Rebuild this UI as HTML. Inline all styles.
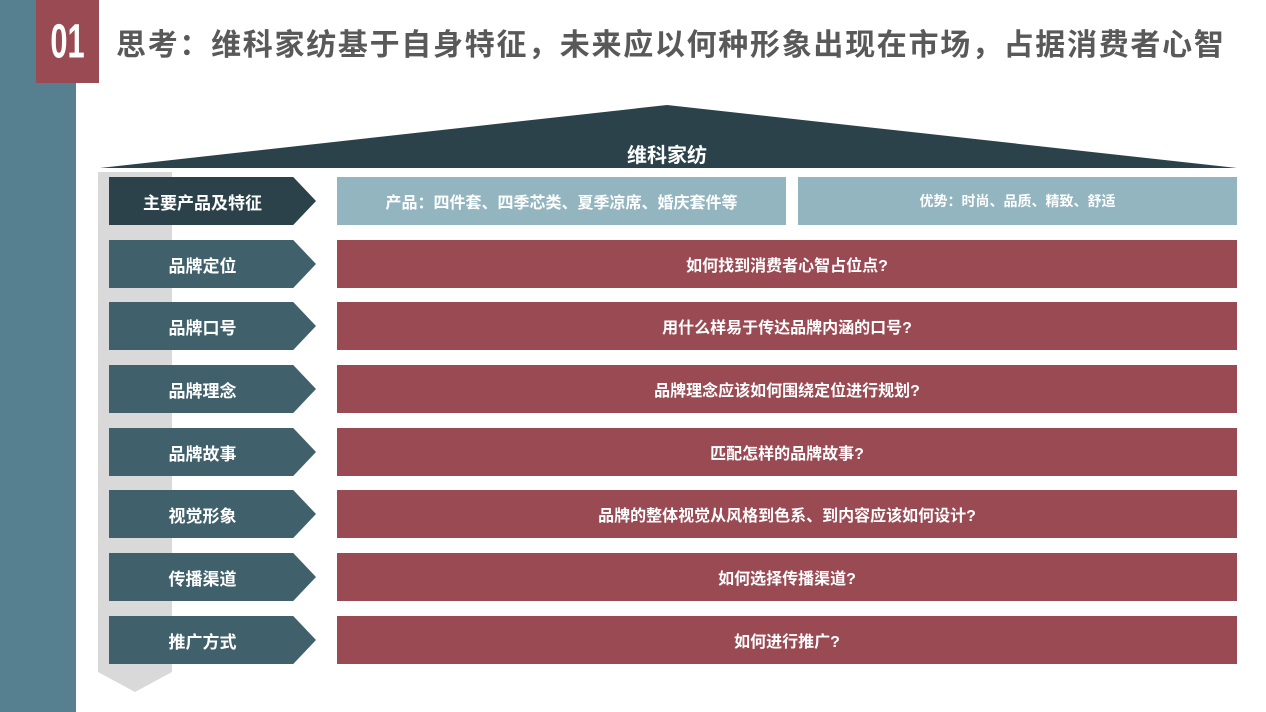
<!DOCTYPE html>
<html><head><meta charset="utf-8"><style>
body{margin:0;width:1266px;height:712px;background:#fff;position:relative;overflow:hidden;font-family:"Liberation Sans","Noto Sans CJK SC",sans-serif;}
.a{position:absolute;}
.t{display:flex;align-items:center;justify-content:center;color:#fff;font-weight:bold;}
.chev{position:absolute;left:109px;width:207px;height:48px;clip-path:polygon(0 0,89% 0,100% 50%,89% 100%,0 100%);background:#40616c;font-size:17px;padding-right:20px;box-sizing:border-box;}
.box{position:absolute;left:337px;width:900px;height:48px;background:#9a4a53;font-size:16px;}
</style></head><body>
<div class="a" style="left:0;top:0;width:76px;height:712px;background:#56808f"></div>
<div class="a t" style="left:36px;top:0;width:63px;height:83px;background:#9a4a53;"><span style="display:inline-block;font-size:44px;transform:scale(0.7,1.1)">01</span></div>
<div class="a" style="left:116px;top:20px;font-size:30px;font-weight:bold;color:#595959;white-space:nowrap;letter-spacing:1.7px">思考：维科家纺基于自身特征，未来应以何种形象出现在市场，占据消费者心智</div>
<svg class="a" style="left:0;top:0" width="1266" height="712">
<polygon points="100,168 667,105 1237,168" fill="#2b424a"/>
<polygon points="98,172 172,172 172,672 135,692 98,672" fill="#d9d9d9"/>
</svg>
<div class="a t" style="left:567px;top:138px;width:200px;height:30px;font-size:20px">维科家纺</div>
<div class="chev t" style="top:177px;background:#2b424a">主要产品及特征</div>
<div class="a t" style="left:337px;top:177px;width:449px;height:48px;background:#93b5bf;font-size:16px">产品：四件套、四季芯类、夏季凉席、婚庆套件等</div>
<div class="a t" style="left:798px;top:177px;width:439px;height:48px;background:#93b5bf;font-size:14px">优势：时尚、品质、精致、舒适</div>
<div class="chev t" style="top:240px">品牌定位</div><div class="box t" style="top:240px">如何找到消费者心智占位点?</div>
<div class="chev t" style="top:302px">品牌口号</div><div class="box t" style="top:302px">用什么样易于传达品牌内涵的口号?</div>
<div class="chev t" style="top:365px">品牌理念</div><div class="box t" style="top:365px">品牌理念应该如何围绕定位进行规划?</div>
<div class="chev t" style="top:428px">品牌故事</div><div class="box t" style="top:428px">匹配怎样的品牌故事?</div>
<div class="chev t" style="top:490px">视觉形象</div><div class="box t" style="top:490px">品牌的整体视觉从风格到色系、到内容应该如何设计?</div>
<div class="chev t" style="top:553px">传播渠道</div><div class="box t" style="top:553px">如何选择传播渠道?</div>
<div class="chev t" style="top:616px">推广方式</div><div class="box t" style="top:616px">如何进行推广?</div>
</body></html>
